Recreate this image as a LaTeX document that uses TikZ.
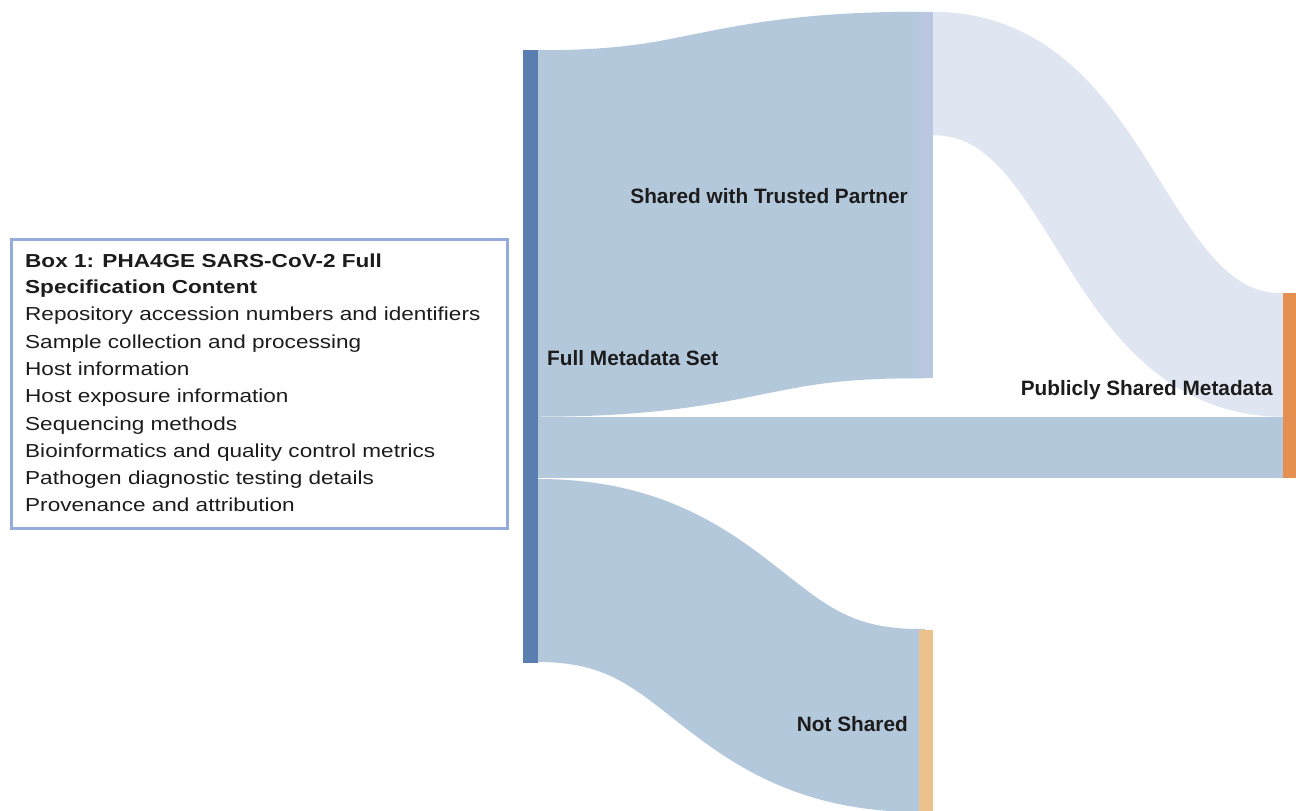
\documentclass[tikz,border=0pt]{standalone}
\usepackage{fontspec}
\setmainfont{Liberation Sans}
\newfontfamily\boxfont[FakeStretch=1.2]{Liberation Sans}
\usetikzlibrary{calc}
\definecolor{fullc}{HTML}{5A7EB0}
\definecolor{flowc}{HTML}{B4C8DC}
\definecolor{trustc}{HTML}{B9C7E1}
\definecolor{flowd}{HTML}{E0E6F1}
\definecolor{pubc}{HTML}{E58F50}
\definecolor{notc}{HTML}{EDC18C}
\definecolor{boxc}{HTML}{94ABDB}
\definecolor{txt}{HTML}{1C1C1C}
\pgfdeclarelayer{bgzero}
\pgfdeclarelayer{flows}
\pgfsetlayers{bgzero,flows,main}
\begin{document}
\begin{tikzpicture}[x=1pt,y=-1pt,
  bar/.style={rectangle, inner sep=0pt, outer sep=0pt, draw=none},
  band/.style={draw=#1, line cap=butt, line join=miter},
  lbl/.style={font=\bfseries\fontsize{20.8}{24}\selectfont, text=txt, inner sep=0pt},
  boxline/.style={font=\boxfont\fontsize{18.8}{27}\selectfont, text=txt, inner sep=0pt, anchor=base west}]
\begin{pgfonlayer}{bgzero}
\fill[white] (0,0) rectangle (1296,811);
\end{pgfonlayer}
\useasboundingbox (0,0) rectangle (1296,811);

% Sankey nodes
\node[bar, fill=fullc, minimum width=15pt, minimum height=613pt] (full) at (530.5,356.5) {};
\node[bar, fill=trustc, minimum width=14pt, minimum height=366pt] (trusted) at (926,195) {};
\node[bar, fill=pubc, minimum width=13pt, minimum height=185pt] (public) at (1289.5,385.5) {};
\node[bar, fill=notc, minimum width=14pt, minimum height=181pt] (notsh) at (926,720.5) {};

% flow end points
\coordinate (a0) at ($(full.north east)+(0,183.5)$);
\coordinate (a1) at (trusted.west);
\coordinate (c0) at ($(full.south east)+(0,-92.5)$);
\coordinate (c1) at (notsh.west);
\coordinate (d0) at ($(trusted.north east)+(0,61.5)$);
\coordinate (d1) at ($(public.north west)+(0,62)$);

% flows
\begin{pgfonlayer}{flows}
\draw[band=flowd, line width=123.5pt] ($(d0)+(-6,0)$) -- (d0) .. controls +(175,0) and +(-175,0) .. (d1) -- ++(6,0);
\draw[band=flowc, line width=366.5pt] ($(a0)+(-6,0)$) -- (a0) .. controls +(190.5,0) and +(-190.5,0) .. (a1) -- ++(6,0);
\fill[flowc] ($(full.north east)+(-6,367)$) rectangle ($(public.south west)+(6,0)$);
\draw[band=flowc, line width=183pt] ($(c0)+(-6,0)$) -- (c0) .. controls +(190.5,0) and +(-190.5,0) .. (c1) -- ++(6,0);
\end{pgfonlayer}

% labels
\node[lbl, anchor=base east] (lt) at ($(trusted.west)+(-11,8)$) {Shared with Trusted Partner};
\node[lbl, anchor=base west] (lf) at ($(full.east)+(9,8.5)$) {Full Metadata Set};
\node[lbl, anchor=base east] (lp) at ($(public.west)+(-10,9.5)$) {Publicly Shared Metadata};
\node[lbl, anchor=base east] (ln) at ($(notsh.west)+(-11,10.5)$) {Not Shared};

% box
\node[bar, draw=boxc, line width=3pt, minimum width=496pt, minimum height=289pt] (box) at (259.5,384) {};
\node[boxline, font=\boxfont\bfseries\fontsize{18.8}{27}\selectfont] (title1) at (25,267) {Box 1: PHA4GE SARS-CoV-2 Full};
\node[boxline, font=\boxfont\bfseries\fontsize{18.8}{27}\selectfont] (title2) at (25,293.5) {Specification Content};
\foreach \txt [count=\i] in {Repository accession numbers and identifiers, Sample collection and processing, Host information, Host exposure information, Sequencing methods, Bioinformatics and quality control metrics, Pathogen diagnostic testing details, Provenance and attribution}
  \node[boxline] (item\i) at (25,{320.8+27.3*(\i-1)}) {\txt};
\end{tikzpicture}
\end{document}
